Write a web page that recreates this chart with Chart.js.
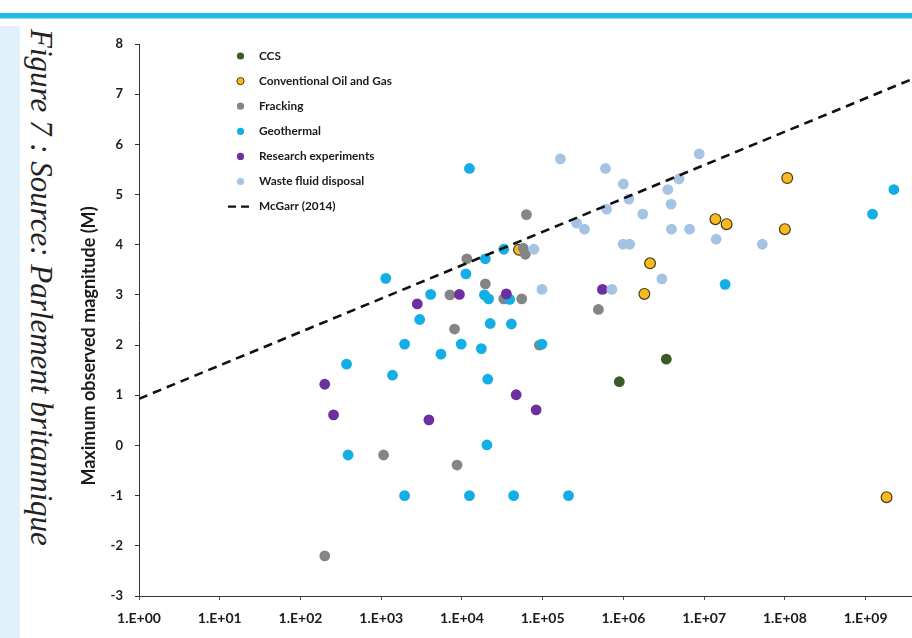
<!DOCTYPE html>
<html>
<head>
<meta charset="utf-8">
<script src="https://cdn.jsdelivr.net/npm/chart.js@4.4.1/dist/chart.umd.min.js"></script>
<style>
  html, body { margin: 0; padding: 0; background: #ffffff; }
  #page { position: relative; width: 912px; height: 638px; overflow: hidden; background: #ffffff; }
  #topbar { position: absolute; left: 0; top: 13px; width: 912px; height: 5px; background: #1cbde9; }
  #topline { position: absolute; left: 0; top: 18px; width: 912px; height: 1px; background: #9fdcf2; }
  #sidepanel { position: absolute; left: 0; top: 26px; width: 20px; height: 612px; background: #e1f1fb; }
  #caption {
    position: absolute; left: 23px; top: 29px;
    writing-mode: vertical-rl;
    font-family: "Liberation Serif", "DejaVu Serif", serif;
    font-style: italic; font-size: 31px; color: #222222; white-space: nowrap;
  }
  #chartbox { position: absolute; left: 0; top: 0; width: 912px; height: 638px; }
</style>
</head>
<body>
<div id="page">
  <div id="topbar"></div>
  <div id="topline"></div>
  <div id="sidepanel"></div>
  <div id="caption">Figure 7 : Source: Parlement britannique</div>
  <div id="chartbox"><canvas id="chart" width="912" height="638"></canvas></div>
</div>
<script>
// Injected volume (x, m³) and maximum observed magnitude (y), per industry
const ccsVolume = [8.9e5, 3.4e6];
const ccsMag = [1.27, 1.72];

const oilGasVolume = [5.1e4, 1.82e6, 2.14e6, 1.38e7, 1.9e7, 1.0e8, 1.07e8, 1.82e9];
const oilGasMag = [3.9, 3.02, 3.63, 4.51, 4.41, 4.31, 5.33, -1.03];

const frackingVolume = [200, 1.07e3, 7.1e3, 8.1e3, 8.7e3, 1.15e4, 1.95e4, 3.3e4, 5.5e4, 5.75e4, 6.1e4, 6.3e4, 9.1e4, 4.9e5];
const frackingMag = [-2.2, -0.19, 3.0, 2.32, -0.39, 3.72, 3.22, 2.92, 2.92, 3.93, 3.81, 4.6, 2.0, 2.71];

const geothermalVolume = [372, 389, 1.14e3, 1.38e3, 1.95e3, 1.95e3, 3.0e3, 4.1e3, 5.5e3, 9.8e3, 1.12e4, 1.24e4, 1.24e4, 1.74e4, 1.9e4, 1.95e4, 2.04e4, 2.09e4, 2.14e4, 2.24e4, 3.3e4, 3.9e4, 4.1e4, 4.37e4, 9.8e4, 2.09e5, 1.82e7, 1.22e9, 2.24e9];
const geothermalMag = [1.62, -0.19, 3.33, 1.40, 2.02, -1.0, 2.51, 3.01, 1.82, 2.02, 3.42, 5.52, -1.0, 1.93, 3.0, 3.72, 0.01, 1.32, 2.92, 2.43, 3.91, 2.91, 2.42, -1.0, 2.02, -1.0, 3.21, 4.61, 5.1];

const researchVolume = [200, 257, 2.8e3, 3.9e3, 9.3e3, 3.55e4, 4.7e4, 8.3e4, 5.5e5];
const researchMag = [1.22, 0.61, 2.82, 0.51, 3.01, 3.02, 1.01, 0.71, 3.11];

const wasteVolume = [7.8e4, 9.8e4, 1.66e5, 2.63e5, 3.3e5, 6.0e5, 6.2e5, 7.2e5, 9.9e5, 1.0e6, 1.17e6, 1.2e6, 1.74e6, 3.0e6, 3.55e6, 3.9e6, 3.94e6, 4.9e6, 6.6e6, 8.7e6, 1.41e7, 5.25e7];
const wasteMag = [3.91, 3.11, 5.71, 4.43, 4.31, 5.52, 4.71, 3.11, 4.01, 5.21, 4.91, 4.01, 4.61, 3.32, 5.10, 4.81, 4.31, 5.31, 4.31, 5.81, 4.11, 4.01];

// McGarr (2014) upper bound, drawn between two end points
const mcgarrVolume = [1, 3.76e9];
const mcgarrMag = [0.93, 7.30];

const xTickValues = [1e0, 1e1, 1e2, 1e3, 1e4, 1e5, 1e6, 1e7, 1e8, 1e9];
const xTickLabels = ['1.E+00', '1.E+01', '1.E+02', '1.E+03', '1.E+04', '1.E+05', '1.E+06', '1.E+07', '1.E+08', '1.E+09'];
const yAxisTitle = 'Maximum observed magnitude (M)';

const pairs = (xs, ys) => xs.map((x, i) => ({ x: x, y: ys[i] }));

const seriesStyle = [
  { label: 'CCS', x: ccsVolume, y: ccsMag, fill: '#3a5a2a', edge: '#3a5a2a', bw: 0 },
  { label: 'Conventional Oil and Gas', x: oilGasVolume, y: oilGasMag, fill: '#f6bb22', edge: '#4a3b0e', bw: 1.2 },
  { label: 'Fracking', x: frackingVolume, y: frackingMag, fill: '#858585', edge: '#858585', bw: 0 },
  { label: 'Geothermal', x: geothermalVolume, y: geothermalMag, fill: '#12aee6', edge: '#12aee6', bw: 0 },
  { label: 'Research experiments', x: researchVolume, y: researchMag, fill: '#6e2f9e', edge: '#6e2f9e', bw: 0 },
  { label: 'Waste fluid disposal', x: wasteVolume, y: wasteMag, fill: '#a5c3e3', edge: '#a5c3e3', bw: 0 }
];

const datasets = seriesStyle.map((s, i) => ({
  type: 'scatter',
  label: s.label,
  data: pairs(s.x, s.y),
  backgroundColor: s.fill,
  borderColor: s.edge,
  borderWidth: s.bw,
  pointRadius: 5.4,
  pointHoverRadius: 5.4,
  order: seriesStyle.length - i   // later series painted over earlier ones
}));

datasets.push({
  type: 'line',
  label: 'McGarr (2014)',
  data: pairs(mcgarrVolume, mcgarrMag),
  borderColor: '#111111',
  borderWidth: 2.6,
  borderDash: [9, 6],
  pointRadius: 0,
  fill: false,
  order: 0
});

const tickFont = { family: 'Lato, "Open Sans", sans-serif', weight: 'bold', size: 14 };

// Legend drawn inside the plot, upper left
const insideLegend = {
  id: 'insideLegend',
  afterDraw(chart) {
    const ctx = chart.ctx;
    const markerX = 240.5, textX = 259, top = 56, step = 25.1;
    ctx.save();
    ctx.font = 'bold 11.8px Lato, "Open Sans", sans-serif';
    ctx.textBaseline = 'middle';
    ctx.textAlign = 'left';
    seriesStyle.forEach((s, i) => {
      const y = top + i * step;
      ctx.beginPath();
      ctx.arc(markerX, y, 3.6, 0, Math.PI * 2);
      ctx.fillStyle = s.fill;
      ctx.fill();
      if (s.bw) { ctx.lineWidth = 1; ctx.strokeStyle = s.edge; ctx.stroke(); }
      ctx.fillStyle = '#1a1a1a';
      ctx.fillText(s.label, textX, y);
    });
    const ly = top + seriesStyle.length * step;
    ctx.strokeStyle = '#111111';
    ctx.lineWidth = 2.4;
    ctx.setLineDash([8, 5]);
    ctx.beginPath();
    ctx.moveTo(228, ly);
    ctx.lineTo(253, ly);
    ctx.stroke();
    ctx.setLineDash([]);
    ctx.fillStyle = '#1a1a1a';
    ctx.fillText('McGarr (2014)', textX, ly);
    ctx.restore();
  }
};

// Rotated y-axis title
const yTitle = {
  id: 'yTitle',
  afterDraw(chart) {
    const ctx = chart.ctx;
    const a = chart.chartArea;
    ctx.save();
    ctx.translate(89, (a.top + a.bottom) / 2 + 26);
    ctx.rotate(-Math.PI / 2);
    ctx.font = 'bold 18px Lato, "Open Sans", sans-serif';
    ctx.fillStyle = '#1a1a1a';
    ctx.textAlign = 'center';
    ctx.textBaseline = 'middle';
    ctx.fillText(yAxisTitle, 0, 0);
    ctx.restore();
  }
};

new Chart(document.getElementById('chart'), {
  type: 'scatter',
  data: { datasets: datasets },
  plugins: [insideLegend, yTitle],
  options: {
    responsive: false,
    animation: false,
    events: [],
    layout: { padding: { top: 44, left: 0, right: 0, bottom: 0 }, autoPadding: false },
    plugins: { legend: { display: false }, tooltip: { enabled: false } },
    scales: {
      x: {
        type: 'logarithmic',
        position: 'bottom',
        min: 1,
        max: 10 ** 9.575,
        afterBuildTicks: (scale) => { scale.ticks = xTickValues.map(v => ({ value: v })); },
        ticks: {
          autoSkip: false,
          maxRotation: 0,
          color: '#1a1a1a',
          font: tickFont,
          padding: 10,
          callback: (value) => {
            const i = xTickValues.indexOf(value);
            return i >= 0 ? xTickLabels[i] : '';
          }
        },
        grid: { drawOnChartArea: false, drawTicks: true, tickLength: 4, color: '#555555' },
        border: { display: true, color: '#333333', width: 1 },
        afterFit: (scale) => { scale.height = 42; }
      },
      y: {
        type: 'linear',
        min: -3,
        max: 8,
        ticks: { stepSize: 1, color: '#1a1a1a', font: { family: 'Lato, "Open Sans", sans-serif', weight: 'bold', size: 13 }, padding: 12 },
        grid: { drawOnChartArea: false, drawTicks: true, tickLength: 4, color: '#333333' },
        border: { display: true, color: '#333333', width: 1 },
        afterFit: (scale) => { scale.width = 139; }
      }
    }
  }
});
</script>
</body>
</html>
